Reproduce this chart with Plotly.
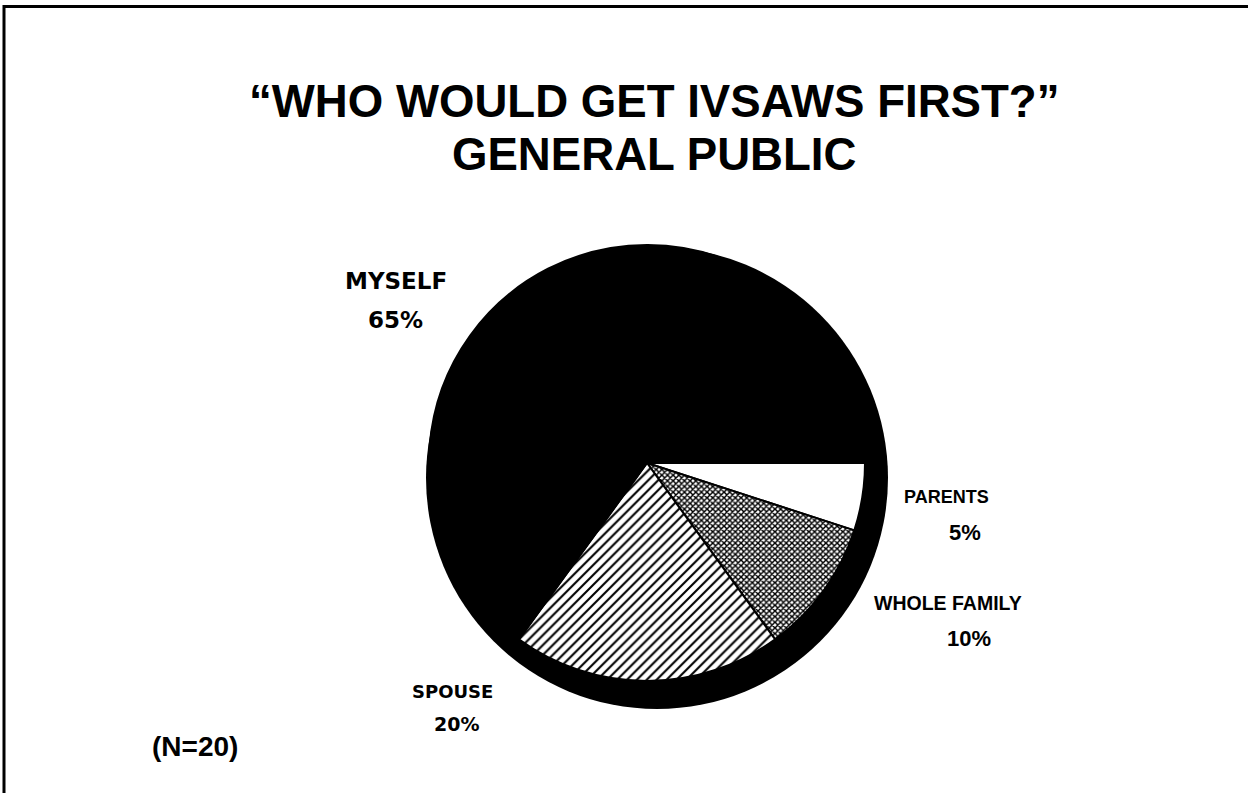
import plotly.graph_objects as go

# ---- data ----
categories = ["PARENTS", "WHOLE FAMILY", "SPOUSE", "MYSELF"]
values = [5, 10, 20, 65]
sample_note = "(N=20)"
title_lines = ["\u201cWHO WOULD GET IVSAWS FIRST?\u201d", "GENERAL PUBLIC"]

W, H = 1248, 793

def px(x):
    return x / W

def py(y):
    return 1 - y / H

fig = go.Figure()

# black "depth" disc behind the pie (3D rim look)
fig.add_trace(go.Pie(
    values=[sum(values)], labels=["rim"], sort=False,
    marker=dict(colors=["black"], line=dict(color="black", width=0)),
    textinfo="none", hoverinfo="skip", showlegend=False,
    domain=dict(x=[px(426), px(888)], y=[py(712), py(244)]),
))

fig.add_trace(go.Pie(
    labels=categories, values=values, sort=False,
    direction="clockwise", rotation=90,
    marker=dict(
        colors=["white", "white", "white", "black"],
        line=dict(color="black", width=2),
        pattern=dict(
            shape=["", "x", "/", ""],
            fgcolor=["black", "black", "black", "black"],
            bgcolor=["white", "white", "white", "black"],
            size=[8, 4, 7, 8],
            solidity=[0.3, 0.6, 0.3, 0.3],
        ),
    ),
    textinfo="none", showlegend=False,
    domain=dict(x=[px(429), px(865)], y=[py(681), py(245)]),
))

# label positions (pixels, center) for name and percent lines
name_pos = {"PARENTS": (946, 497), "WHOLE FAMILY": (948, 603),
            "SPOUSE": (452, 691), "MYSELF": (396, 281)}
pct_pos = {"PARENTS": (965, 532), "WHOLE FAMILY": (969, 638),
           "SPOUSE": (457, 724), "MYSELF": (395, 320)}
heavy_font = "DejaVu Sans"
plain_font = "Liberation Sans, Arial"
name_size = {"PARENTS": 18, "WHOLE FAMILY": 19.5, "SPOUSE": 18, "MYSELF": 23}
pct_size = {"PARENTS": 22, "WHOLE FAMILY": 22, "SPOUSE": 19, "MYSELF": 23}

annotations = []
for cat, val in zip(categories, values):
    fam = heavy_font if cat in ("SPOUSE", "MYSELF") else plain_font
    nx, ny = name_pos[cat]
    annotations.append(dict(x=px(nx), y=py(ny), xref="paper", yref="paper",
                            text=f"<b>{cat}</b>", showarrow=False,
                            xanchor="center", yanchor="middle",
                            font=dict(family=fam, size=name_size[cat], color="black")))
    qx, qy = pct_pos[cat]
    annotations.append(dict(x=px(qx), y=py(qy), xref="paper", yref="paper",
                            text=f"<b>{val}%</b>", showarrow=False,
                            xanchor="center", yanchor="middle",
                            font=dict(family=fam, size=pct_size[cat], color="black")))

annotations.append(dict(x=px(195), y=py(746), xref="paper", yref="paper",
                        text=f"<b>{sample_note}</b>", showarrow=False,
                        xanchor="center", yanchor="middle",
                        font=dict(family=plain_font, size=28, color="black")))

for txt, yy in zip(title_lines, [101, 155]):
    annotations.append(dict(x=px(654), y=py(yy), xref="paper", yref="paper",
                            text=f"<b>{txt}</b>", showarrow=False,
                            xanchor="center", yanchor="middle",
                            font=dict(family="Liberation Sans, Arial", size=45.6, color="black")))

shapes = [
    dict(type="line", xref="paper", yref="paper", x0=px(3), x1=1, y0=py(6.5), y1=py(6.5),
         line=dict(color="black", width=3)),
    dict(type="line", xref="paper", yref="paper", x0=px(4), x1=px(4), y0=py(5), y1=0,
         line=dict(color="black", width=3)),
]

fig.update_layout(
    width=W, height=H,
    margin=dict(l=0, r=0, t=0, b=0),
    paper_bgcolor="white", plot_bgcolor="white",
    annotations=annotations, shapes=shapes,
    showlegend=False,
)

fig.write_html("out.html",
               config={"displayModeBar": False},
               post_script="document.body.style.margin='0';document.body.style.overflow='hidden';")
